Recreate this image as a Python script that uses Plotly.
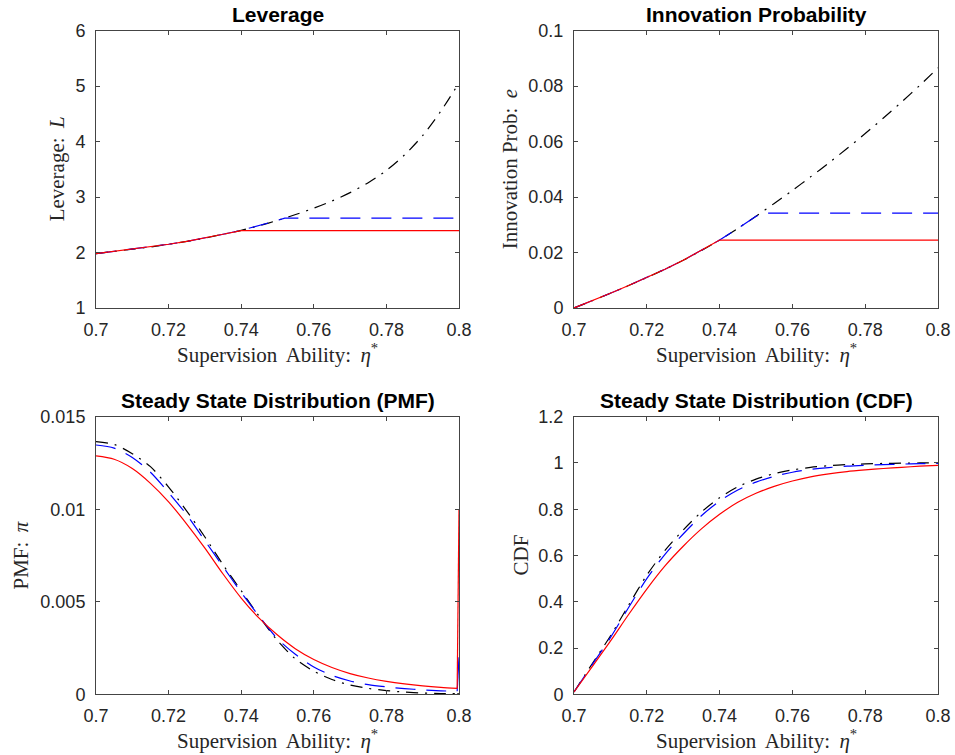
import plotly.graph_objects as go

# ---------------- data ----------------
eta = [0.700, 0.705, 0.710, 0.715, 0.720, 0.725, 0.730, 0.735, 0.740, 0.745,
       0.750, 0.755, 0.760, 0.765, 0.770, 0.775, 0.780, 0.785, 0.790, 0.795, 0.800]

# Leverage
lev_black = [1.98, 2.02, 2.06, 2.10, 2.15, 2.20, 2.26, 2.33, 2.40, 2.485,
             2.58, 2.685, 2.80, 2.93, 3.08, 3.26, 3.48, 3.76, 4.11, 4.55, 5.06]
lev_blue_x = [0.700, 0.705, 0.710, 0.715, 0.720, 0.725, 0.730, 0.735, 0.740, 0.745, 0.750, 0.752, 0.800]
lev_blue = [1.98, 2.02, 2.06, 2.10, 2.15, 2.20, 2.26, 2.33, 2.40, 2.485, 2.58, 2.62, 2.62]
lev_red_x = [0.700, 0.705, 0.710, 0.715, 0.720, 0.725, 0.730, 0.735, 0.740, 0.800]
lev_red = [1.98, 2.02, 2.06, 2.10, 2.15, 2.20, 2.26, 2.33, 2.395, 2.395]

# Innovation probability
inn_black = [0.0, 0.0026, 0.0053, 0.0081, 0.0110, 0.0140, 0.0172, 0.0207, 0.0245, 0.0287,
             0.0331, 0.0377, 0.0424, 0.0473, 0.0523, 0.0575, 0.0629, 0.0685, 0.0743, 0.0803, 0.0866]
inn_blue_x = [0.700, 0.705, 0.710, 0.715, 0.720, 0.725, 0.730, 0.735, 0.740, 0.745, 0.750, 0.7524, 0.800]
inn_blue = [0.0, 0.0026, 0.0053, 0.0081, 0.0110, 0.0140, 0.0172, 0.0207, 0.0245, 0.0287, 0.0331, 0.0342, 0.0342]
inn_red_x = [0.700, 0.705, 0.710, 0.715, 0.720, 0.725, 0.730, 0.735, 0.740, 0.800]
inn_red = [0.0, 0.0026, 0.0053, 0.0081, 0.0110, 0.0140, 0.0172, 0.0207, 0.0245, 0.0245]

# PMF (last point is the mass point at the upper bound)
pmf_x = [0.700, 0.705, 0.710, 0.715, 0.720, 0.725, 0.730, 0.735, 0.740, 0.745,
         0.750, 0.755, 0.760, 0.765, 0.770, 0.775, 0.780, 0.785, 0.790, 0.795, 0.7995, 0.800]
pmf_red = [0.01288, 0.0127, 0.0122, 0.0114, 0.0104, 0.0092, 0.0079, 0.0065, 0.0052, 0.0041,
           0.0032, 0.00245, 0.00188, 0.00145, 0.00112, 0.00088, 0.0007, 0.00056, 0.00045, 0.00037, 0.00032, 0.0100]
pmf_blue = [0.01347, 0.0133, 0.0128, 0.0120, 0.0109, 0.0097, 0.0083, 0.0069, 0.0055, 0.0042,
            0.0030, 0.00215, 0.00148, 0.00102, 0.00072, 0.00052, 0.0004, 0.00031, 0.00024, 0.00019, 0.00016, 0.0020]
pmf_black = [0.01365, 0.0135, 0.0130, 0.0123, 0.0112, 0.0099, 0.0085, 0.0070, 0.0056, 0.0042,
             0.0029, 0.0019, 0.00125, 0.0008, 0.0005, 0.00032, 0.0002, 0.00012, 0.00007, 0.00004, 0.00003, 0.00003]

# CDF
cdf_red = [0.01, 0.12, 0.23, 0.345, 0.455, 0.555, 0.64, 0.715, 0.778, 0.83,
           0.869, 0.899, 0.922, 0.94, 0.953, 0.963, 0.97, 0.976, 0.981, 0.986, 0.99]
cdf_blue = [0.01, 0.128, 0.245, 0.375, 0.5, 0.605, 0.693, 0.772, 0.835, 0.883,
            0.917, 0.942, 0.96, 0.972, 0.98, 0.986, 0.99, 0.993, 0.995, 0.997, 0.998]
cdf_black = [0.01, 0.132, 0.252, 0.385, 0.515, 0.622, 0.71, 0.788, 0.85, 0.897,
             0.93, 0.954, 0.97, 0.981, 0.988, 0.993, 0.996, 0.998, 0.999, 1.0, 1.0]

x_ticks = [0.70, 0.72, 0.74, 0.76, 0.78, 0.80]
x_ticktext = ["0.7", "0.72", "0.74", "0.76", "0.78", "0.8"]
lev_ticks = [1, 2, 3, 4, 5, 6]
inn_ticks = [0, 0.02, 0.04, 0.06, 0.08, 0.1]
inn_ticktext = ["0", "0.02", "0.04", "0.06", "0.08", "0.1"]
pmf_ticks = [0, 0.005, 0.01, 0.015]
pmf_ticktext = ["0", "0.005", "0.01", "0.015"]
cdf_ticks = [0, 0.2, 0.4, 0.6, 0.8, 1.0, 1.2]
cdf_ticktext = ["0", "0.2", "0.4", "0.6", "0.8", "1", "1.2"]

titles = ["Leverage", "Innovation Probability",
          "Steady State Distribution (PMF)", "Steady State Distribution (CDF)"]
ylabels = ["Leverage:\u2009 <i>L</i>", "Innovation Prob:\u2009 <i>e</i>", "PMF:\u2009 <i>π</i>", "CDF"]
xlabel = "Supervision\u2009 Ability:\u2009 <i>η</i><sup>*</sup>"

# ---------------- figure ----------------
W, H = 955, 755
fig = go.Figure()

RED = "#ff0000"
BLUE = "#0000ff"
BLACK = "#000000"
DASH_BLUE = "20px,11px"
DASH_BLACK = "12px,7px,2px,7px"
LW = 1.2


def add(x, y, color, dash, ax, shape="linear"):
    fig.add_trace(go.Scatter(x=x, y=y, mode="lines",
                             line=dict(color=color, width=LW, dash=dash, shape=shape,
                                       smoothing=0.8),
                             xaxis="x" + ax, yaxis="y" + ax,
                             showlegend=False, hoverinfo="skip"))


add(eta, lev_black, BLACK, DASH_BLACK, "", "spline")
add(lev_blue_x, lev_blue, BLUE, DASH_BLUE, "")
add(lev_red_x, lev_red, RED, "solid", "")

add(eta, inn_black, BLACK, DASH_BLACK, "2", "spline")
add(inn_blue_x, inn_blue, BLUE, DASH_BLUE, "2")
add(inn_red_x, inn_red, RED, "solid", "2")

# PMF: smooth interior part, then the straight jump to the mass point
for ys, col, dsh in [(pmf_black, BLACK, DASH_BLACK), (pmf_blue, BLUE, DASH_BLUE),
                     (pmf_red, RED, "solid")]:
    add(pmf_x[:-1], ys[:-1], col, dsh, "3", "spline")
    add(pmf_x[-2:], ys[-2:], col, "solid", "3")

add(eta, cdf_black, BLACK, DASH_BLACK, "4", "spline")
add(eta, cdf_blue, BLUE, DASH_BLUE, "4", "spline")
add(eta, cdf_red, RED, "solid", "4", "spline")

# pixel boxes of axes (left, right, top, bottom)
boxes = [(96, 459, 30.7, 308), (574, 938, 30.7, 308),
         (96, 459, 416.7, 694.3), (574, 938, 416.7, 694.3)]

tickfont = dict(family="Liberation Sans, Arial, sans-serif", size=18, color="#262626")
axcommon = dict(showgrid=False, zeroline=False, showline=True, linecolor="#444444",
                linewidth=1, mirror="allticks", ticks="inside", ticklen=4,
                tickcolor="#444444", tickwidth=1, tickfont=tickfont, automargin=False)

yspecs = [([1, 6], lev_ticks, [str(v) for v in lev_ticks]),
          ([0, 0.1], inn_ticks, inn_ticktext),
          ([0, 0.015], pmf_ticks, pmf_ticktext),
          ([0, 1.2], cdf_ticks, cdf_ticktext)]

layout = {}
for i, (l, r, t, b) in enumerate(boxes):
    suf = "" if i == 0 else str(i + 1)
    xdom = [l / W, r / W]
    ydom = [1 - b / H, 1 - t / H]
    yr, yt, ytt = yspecs[i]
    layout["xaxis" + suf] = dict(domain=xdom, range=[0.7, 0.8], tickvals=x_ticks,
                                 ticktext=x_ticktext, anchor="y" + suf,
                                 ticklabelstandoff=5, **axcommon)
    layout["yaxis" + suf] = dict(domain=ydom, range=yr, tickvals=yt, ticktext=ytt,
                                 anchor="x" + suf, ticklabelstandoff=6, **axcommon)

fig.update_layout(**layout)

# titles and axis labels
ann = []
serif = dict(family="Liberation Serif, Times New Roman, serif", size=21, color="#262626")
title_y = [15, 15, 400.5, 400.5]
xlab_y = [353, 353, 739, 739]
ylab_x = [57, 510, 20, 520]
for i, (l, r, t, b) in enumerate(boxes):
    cx = (l + r) / 2
    ann.append(dict(text="<b>" + titles[i] + "</b>", x=cx / W, y=1 - title_y[i] / H,
                    xref="paper", yref="paper", showarrow=False,
                    xanchor="center", yanchor="middle",
                    font=dict(family="Liberation Sans, Arial, sans-serif", size=21, color="#000000")))
    ann.append(dict(text=xlabel, x=cx / W, y=1 - xlab_y[i] / H, xref="paper", yref="paper",
                    showarrow=False, xanchor="center", yanchor="middle", font=serif))
    ann.append(dict(text=ylabels[i], x=ylab_x[i] / W, y=1 - ((t + b) / 2) / H,
                    xref="paper", yref="paper", showarrow=False, textangle=-90,
                    xanchor="center", yanchor="middle", font=serif))

fig.update_layout(template="none", width=W, height=H, margin=dict(l=0, r=0, t=0, b=0, pad=0),
                  paper_bgcolor="white", plot_bgcolor="white", annotations=ann,
                  hovermode=False)

# remove the default page margin so the figure fills the window exactly
fig.write_html("out.html",
               config={"displayModeBar": False, "staticPlot": True},
               post_script="document.body.style.margin='0px';"
                           "document.body.style.overflow='hidden';")
